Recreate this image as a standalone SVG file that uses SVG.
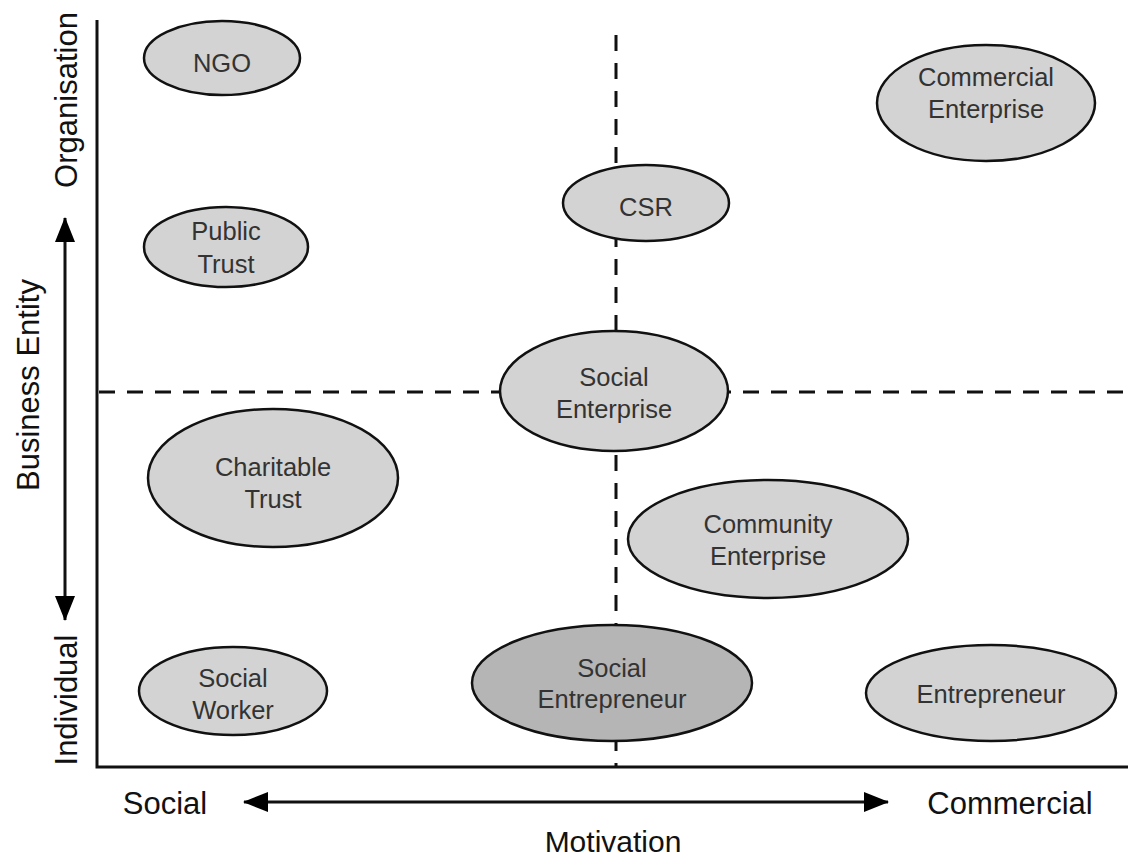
<svg xmlns="http://www.w3.org/2000/svg" width="1145" height="859" viewBox="0 0 1145 859">
<style>
.n ellipse{fill:#d3d3d3;stroke:#111;stroke-width:2.5}
.n text{font-family:"Liberation Sans",Arial,sans-serif;font-size:25.5px;fill:#333;text-anchor:middle}
.ax{stroke:#111;stroke-width:3;fill:none}
.dash{stroke:#111;stroke-width:3;stroke-dasharray:16 12;fill:none}
.lab{font-family:"Liberation Sans",Arial,sans-serif;font-size:31px;fill:#111;text-anchor:middle}
</style>
<defs>
<marker id="ah" viewBox="0 0 25 20" refX="24" refY="10" markerUnits="userSpaceOnUse" markerWidth="25" markerHeight="20" orient="auto-start-reverse">
<path d="M0,0 L25,10 L0,20 Z" fill="#000"/>
</marker>
</defs>
<rect width="1145" height="859" fill="#fff"/>
<g id="connectors">
<line class="dash" x1="616" y1="35" x2="616" y2="767"/>
<line class="dash" x1="99" y1="392" x2="1128" y2="392"/>
<polyline class="ax" points="97,20 97,767 1128,767"/>
<line class="ax" x1="65" y1="620" x2="65" y2="218" marker-end="url(#ah)" marker-start="url(#ah)"/>
<line class="ax" x1="244" y1="802" x2="888" y2="802" marker-end="url(#ah)" marker-start="url(#ah)"/>
</g>
<g id="labels">
<text class="lab" transform="translate(77,100) rotate(-90)">Organisation</text>
<text class="lab" transform="translate(39,385) rotate(-90)">Business Entity</text>
<text class="lab" transform="translate(77,700) rotate(-90)">Individual</text>
<text class="lab" x="165" y="814">Social</text>
<text class="lab" x="1010" y="814">Commercial</text>
<text class="lab" x="613" y="852" style="font-size:30px">Motivation</text>
</g>
<g id="ngo" class="n"><ellipse cx="222" cy="58" rx="78" ry="37"/><text x="222" y="72">NGO</text></g>
<g id="commercial-enterprise" class="n"><ellipse cx="986" cy="103" rx="109" ry="58"/><text x="986" y="86">Commercial</text><text x="986" y="118">Enterprise</text></g>
<g id="csr" class="n"><ellipse cx="646" cy="203" rx="83" ry="38"/><text x="646" y="216">CSR</text></g>
<g id="public-trust" class="n"><ellipse cx="226" cy="247" rx="82" ry="40"/><text x="226" y="240">Public</text><text x="226" y="273">Trust</text></g>
<g id="social-enterprise" class="n"><ellipse cx="614" cy="391" rx="114" ry="60"/><text x="614" y="386">Social</text><text x="614" y="418">Enterprise</text></g>
<g id="charitable-trust" class="n"><ellipse cx="273" cy="478" rx="125" ry="69"/><text x="273" y="476">Charitable</text><text x="273" y="508">Trust</text></g>
<g id="community-enterprise" class="n"><ellipse cx="768" cy="539" rx="140" ry="59"/><text x="768" y="533">Community</text><text x="768" y="565">Enterprise</text></g>
<g id="social-worker" class="n"><ellipse cx="233" cy="691" rx="94" ry="44"/><text x="233" y="687">Social</text><text x="233" y="719">Worker</text></g>
<g id="social-entrepreneur" class="n"><ellipse cx="612" cy="683" rx="140" ry="58" style="fill:#b5b5b5"/><text x="612" y="677">Social</text><text x="612" y="708">Entrepreneur</text></g>
<g id="entrepreneur" class="n"><ellipse cx="991" cy="693" rx="125" ry="48"/><text x="991" y="703">Entrepreneur</text></g>
</svg>
